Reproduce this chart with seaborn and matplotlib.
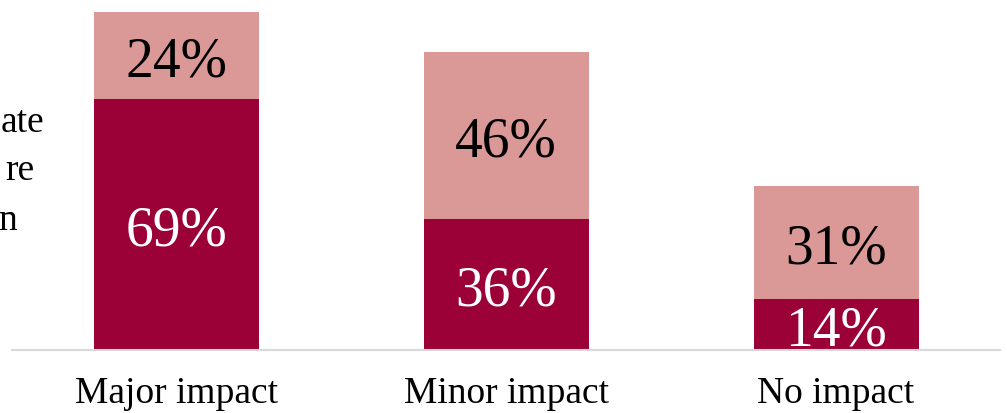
import pandas as pd
import numpy as np
import matplotlib.pyplot as plt
import seaborn as sns

# data
categories = ["Major impact", "Minor impact", "No impact"]
dark_vals = [69, 36, 14]
light_vals = [24, 46, 31]

dark_color = "#9B0037"
light_color = "#DA9896"

sns.set_style("white")
plt.rcParams['font.family'] = ['Liberation Serif', 'DejaVu Serif']
plt.rcParams['text.color'] = 'black'
plt.rcParams['xtick.color'] = 'black'

df = pd.DataFrame({
    'cat': categories,
    'dark': dark_vals,
    'light': light_vals,
})
df['total'] = df['dark'] + df['light']

fig = plt.figure(figsize=(10.07, 4.13), dpi=100)
ax = fig.add_axes([12 / 1007, 63 / 413, 988 / 1007, 350 / 413])

sns.barplot(data=df, x='cat', y='total', color=light_color, width=0.5,
            saturation=1, ax=ax, linewidth=0)
sns.barplot(data=df, x='cat', y='dark', color=dark_color, width=0.5,
            saturation=1, ax=ax, linewidth=0)

ax.set_xlim(-0.498, 2.497)
ax.set_ylim(0, 350 / 3.634)

shift = 1.8  # small downward nudge of the labels
for i, row in df.iterrows():
    ax.text(i, row['dark'] / 2 - shift, f"{row['dark']}%", ha='center', va='center',
            color='white', fontsize=40)
    ax.text(i, row['dark'] + row['light'] / 2 - shift, f"{row['light']}%", ha='center',
            va='center', color='black', fontsize=40)

for s in ['top', 'right', 'left']:
    ax.spines[s].set_visible(False)
ax.spines['bottom'].set_color('#d9d9d9')
ax.spines['bottom'].set_linewidth(1.5)
ax.set_yticks([])
ax.set_xlabel("")
ax.set_ylabel("")
ax.tick_params(axis='x', length=0, pad=19, labelsize=27)

# clipped legend text on the left edge
fig.text(44 / 1007, 1 - 123 / 413, "ate", ha='right', va='center', fontsize=27)
fig.text(34 / 1007, 1 - 171 / 413, "re", ha='right', va='center', fontsize=27)
fig.text(17 / 1007, 1 - 221 / 413, "n", ha='right', va='center', fontsize=27)

plt.savefig("out.png", dpi=100)
plt.close()
